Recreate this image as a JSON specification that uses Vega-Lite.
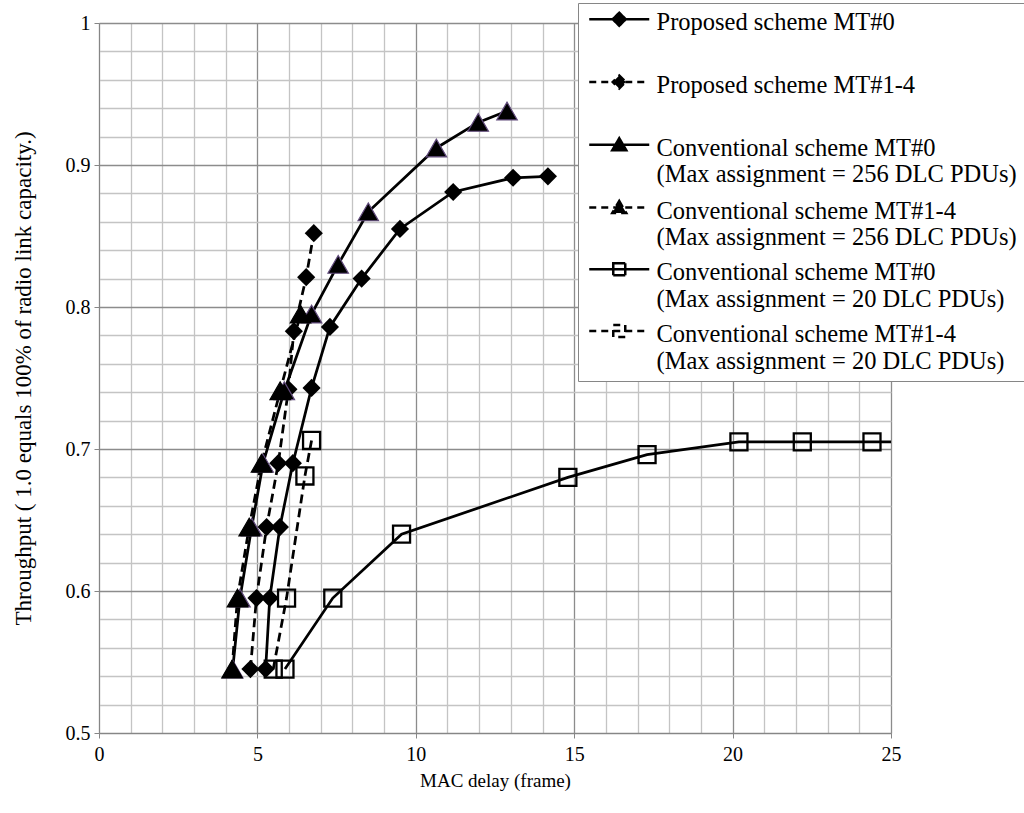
{
  "$schema": "https://vega.github.io/schema/vega-lite/v6.json",
  "width": 792,
  "height": 710,
  "autosize": {"type": "none"},
  "padding": {"left": 99, "top": 23, "right": 133, "bottom": 80},
  "background": "white",
  "config": {
    "view": {"stroke": null},
    "font": "Liberation Serif",
    "legend": {
      "orient": "none",
      "legendX": 479,
      "legendY": -20,
      "direction": "vertical",
      "padding": 8,
      "symbolOffset": 21,
      "strokeColor": "#868686",
      "fillColor": "white",
      "labelFont": "Liberation Serif",
      "labelFontSize": 24.5,
      "labelColor": "black",
      "labelLimit": 450,
      "symbolSize": 400,
      "symbolStrokeWidth": 2.5,
      "rowPadding": 7.75,
      "labelOffset": 25,
      "symbolOpacity": 1
    }
  },
  "data": {
    "values": [
      {"s": "Proposed scheme MT#0|", "x": 5.26, "y": 0.545},
      {"s": "Proposed scheme MT#0|", "x": 5.39, "y": 0.595},
      {"s": "Proposed scheme MT#0|", "x": 5.71, "y": 0.645},
      {"s": "Proposed scheme MT#0|", "x": 6.12, "y": 0.69},
      {"s": "Proposed scheme MT#0|", "x": 6.71, "y": 0.743},
      {"s": "Proposed scheme MT#0|", "x": 7.29, "y": 0.786},
      {"s": "Proposed scheme MT#0|", "x": 8.29, "y": 0.82},
      {"s": "Proposed scheme MT#0|", "x": 9.5, "y": 0.855},
      {"s": "Proposed scheme MT#0|", "x": 11.18, "y": 0.881},
      {"s": "Proposed scheme MT#0|", "x": 13.07, "y": 0.891},
      {"s": "Proposed scheme MT#0|", "x": 14.17, "y": 0.892},
      {"s": "Proposed scheme MT#1-4|", "x": 4.78, "y": 0.545},
      {"s": "Proposed scheme MT#1-4|", "x": 4.97, "y": 0.595},
      {"s": "Proposed scheme MT#1-4|", "x": 5.29, "y": 0.645},
      {"s": "Proposed scheme MT#1-4|", "x": 5.66, "y": 0.69},
      {"s": "Proposed scheme MT#1-4|", "x": 5.98, "y": 0.742},
      {"s": "Proposed scheme MT#1-4|", "x": 6.15, "y": 0.783},
      {"s": "Proposed scheme MT#1-4|", "x": 6.54, "y": 0.821},
      {"s": "Proposed scheme MT#1-4|", "x": 6.78, "y": 0.852},
      {"s": "Conventional scheme MT#0|(Max assignment = 256 DLC PDUs)", "x": 4.22, "y": 0.545},
      {"s": "Conventional scheme MT#0|(Max assignment = 256 DLC PDUs)", "x": 4.45, "y": 0.595},
      {"s": "Conventional scheme MT#0|(Max assignment = 256 DLC PDUs)", "x": 4.82, "y": 0.645},
      {"s": "Conventional scheme MT#0|(Max assignment = 256 DLC PDUs)", "x": 5.18, "y": 0.69},
      {"s": "Conventional scheme MT#0|(Max assignment = 256 DLC PDUs)", "x": 5.85, "y": 0.741},
      {"s": "Conventional scheme MT#0|(Max assignment = 256 DLC PDUs)", "x": 6.71, "y": 0.795},
      {"s": "Conventional scheme MT#0|(Max assignment = 256 DLC PDUs)", "x": 7.55, "y": 0.83},
      {"s": "Conventional scheme MT#0|(Max assignment = 256 DLC PDUs)", "x": 8.5, "y": 0.867},
      {"s": "Conventional scheme MT#0|(Max assignment = 256 DLC PDUs)", "x": 10.65, "y": 0.912},
      {"s": "Conventional scheme MT#0|(Max assignment = 256 DLC PDUs)", "x": 11.97, "y": 0.93},
      {"s": "Conventional scheme MT#0|(Max assignment = 256 DLC PDUs)", "x": 12.88, "y": 0.938},
      {"s": "Conventional scheme MT#1-4|(Max assignment = 256 DLC PDUs)", "x": 4.2, "y": 0.545},
      {"s": "Conventional scheme MT#1-4|(Max assignment = 256 DLC PDUs)", "x": 4.37, "y": 0.595},
      {"s": "Conventional scheme MT#1-4|(Max assignment = 256 DLC PDUs)", "x": 4.74, "y": 0.645},
      {"s": "Conventional scheme MT#1-4|(Max assignment = 256 DLC PDUs)", "x": 5.13, "y": 0.69},
      {"s": "Conventional scheme MT#1-4|(Max assignment = 256 DLC PDUs)", "x": 5.72, "y": 0.741},
      {"s": "Conventional scheme MT#1-4|(Max assignment = 256 DLC PDUs)", "x": 6.36, "y": 0.795},
      {"s": "Conventional scheme MT#0|(Max assignment = 20 DLC PDUs)", "x": 5.87, "y": 0.545},
      {"s": "Conventional scheme MT#0|(Max assignment = 20 DLC PDUs)", "x": 7.38, "y": 0.595},
      {"s": "Conventional scheme MT#0|(Max assignment = 20 DLC PDUs)", "x": 9.55, "y": 0.64},
      {"s": "Conventional scheme MT#0|(Max assignment = 20 DLC PDUs)", "x": 14.8, "y": 0.68},
      {"s": "Conventional scheme MT#0|(Max assignment = 20 DLC PDUs)", "x": 17.3, "y": 0.696},
      {"s": "Conventional scheme MT#0|(Max assignment = 20 DLC PDUs)", "x": 20.2, "y": 0.705},
      {"s": "Conventional scheme MT#0|(Max assignment = 20 DLC PDUs)", "x": 22.2, "y": 0.705},
      {"s": "Conventional scheme MT#0|(Max assignment = 20 DLC PDUs)", "x": 24.4, "y": 0.705},
      {"s": "Conventional scheme MT#0|(Max assignment = 20 DLC PDUs)", "x": 26.5, "y": 0.705},
      {"s": "Conventional scheme MT#1-4|(Max assignment = 20 DLC PDUs)", "x": 5.5, "y": 0.545},
      {"s": "Conventional scheme MT#1-4|(Max assignment = 20 DLC PDUs)", "x": 5.92, "y": 0.595},
      {"s": "Conventional scheme MT#1-4|(Max assignment = 20 DLC PDUs)", "x": 6.5, "y": 0.681},
      {"s": "Conventional scheme MT#1-4|(Max assignment = 20 DLC PDUs)", "x": 6.71, "y": 0.706}
    ]
  },
  "encoding": {
    "x": {
      "field": "x",
      "type": "quantitative",
      "scale": {"domain": [0, 25], "nice": false, "zero": false},
      "axis": {
        "values": [0,1,2,3,4,5,6,7,8,9,10,11,12,13,14,15,16,17,18,19,20,21,22,23,24,25],
        "grid": true,
        "gridColor": {"condition": {"test": "datum.value % 5 === 0", "value": "#8c8c8c"}, "value": "#c4c4c4"},
        "gridWidth": 1.3,
        "tickOpacity": {"condition": {"test": "datum.value % 5 === 0", "value": 1}, "value": 0},
        "tickColor": "#868686",
        "tickSize": 5,
        "labelExpr": "datum.value % 5 === 0 ? datum.label : ''",
        "labelFont": "Liberation Serif",
        "labelFontSize": 20,
        "labelColor": "black",
        "labelPadding": 6,
        "labelFlush": false,
        "labelOverlap": false,
        "domainColor": "#868686",
        "title": "MAC delay (frame)",
        "titleFont": "Liberation Serif",
        "titleFontSize": 19,
        "titleFontWeight": "normal",
        "titleColor": "black",
        "titlePadding": 7
      }
    },
    "y": {
      "field": "y",
      "type": "quantitative",
      "scale": {"domain": [0.5, 1], "nice": false, "zero": false},
      "axis": {
        "values": [0.5,0.52,0.54,0.56,0.58,0.6,0.62,0.64,0.66,0.68,0.7,0.72,0.74,0.76,0.78,0.8,0.82,0.84,0.86,0.88,0.9,0.92,0.94,0.96,0.98,1],
        "grid": true,
        "gridColor": {"condition": {"test": "abs(datum.value*10 - round(datum.value*10)) < 0.000001", "value": "#8c8c8c"}, "value": "#c4c4c4"},
        "gridWidth": 1.3,
        "tickOpacity": {"condition": {"test": "abs(datum.value*10 - round(datum.value*10)) < 0.000001", "value": 1}, "value": 0},
        "tickColor": "#868686",
        "tickSize": 5,
        "labelExpr": "abs(datum.value*10 - round(datum.value*10)) < 0.000001 ? format(datum.value, '.1~f') : ''",
        "labelFont": "Liberation Serif",
        "labelFontSize": 20,
        "labelColor": "black",
        "labelPadding": 4,
        "labelFlush": false,
        "labelOverlap": false,
        "domainColor": "#868686",
        "title": "Throughput ( 1.0 equals 100% of radio link capacity.)",
        "titleFont": "Liberation Serif",
        "titleFontSize": 23,
        "titleFontWeight": "normal",
        "titleColor": "black",
        "titlePadding": 30
      }
    }
  },
  "layer": [
    {
      "transform": [{"filter": "indexof(datum.s, 'MT#0') >= 0"}],
      "mark": {"type": "line", "color": "black", "strokeWidth": 2.75, "clip": true},
      "encoding": {"detail": {"field": "s", "type": "nominal"}}
    },
    {
      "transform": [{"filter": "indexof(datum.s, 'MT#1-4') >= 0"}],
      "mark": {"type": "line", "color": "black", "strokeWidth": 2.75, "strokeDash": [9, 5], "clip": true},
      "encoding": {"detail": {"field": "s", "type": "nominal"}}
    },
    {
      "transform": [{"filter": "indexof(datum.s, 'Proposed') === 0"}],
      "mark": {"type": "point", "shape": "diamond", "filled": true, "color": "black", "size": 330, "opacity": 1, "clip": true}
    },
    {
      "transform": [{"filter": "indexof(datum.s, '256') >= 0"}],
      "mark": {"type": "point", "shape": "triangle-up", "filled": true, "fill": "black", "size": 420, "strokeWidth": 1.2, "opacity": 1, "clip": true},
      "encoding": {
        "stroke": {"condition": {"test": "indexof(datum.s, 'MT#0') >= 0", "value": "#604A7B"}, "value": "black"}
      }
    },
    {
      "transform": [{"filter": "indexof(datum.s, '= 20 ') >= 0"}],
      "mark": {"type": "point", "shape": "square", "filled": false, "color": "black", "size": 290, "strokeWidth": 2.3, "opacity": 1, "clip": true}
    },
    {
      "transform": [{"filter": "false"}],
      "mark": {"type": "point", "filled": true},
      "encoding": {
        "shape": {
          "field": "s",
          "type": "nominal",
          "scale": {
            "domain": [
              "Proposed scheme MT#0|",
              "Proposed scheme MT#1-4|",
              "Conventional scheme MT#0|(Max assignment = 256 DLC PDUs)",
              "Conventional scheme MT#1-4|(Max assignment = 256 DLC PDUs)",
              "Conventional scheme MT#0|(Max assignment = 20 DLC PDUs)",
              "Conventional scheme MT#1-4|(Max assignment = 20 DLC PDUs)"
            ],
            "range": [
              "M-3,-0.4H3M0,-1.05L0.65,-0.4L0,0.25L-0.65,-0.4Z",
              "M-3,-0.4H3M0,-1.05L0.65,-0.4L0,0.25L-0.65,-0.4Z",
              "M-3,-0.4H3M0,-1.05L0.7,0.15L-0.7,0.15Z",
              "M-3,-0.4H3M0,-1.05L0.7,0.15L-0.7,0.15Z",
              "M-3,-0.4H3M-0.6,-1H0.6V0.2H-0.6Z",
              "M-3,-0.4H3M-0.6,-1H0.6V0.2H-0.6Z"
            ]
          },
          "legend": {"title": null, "labelExpr": "split(datum.label, '|')"}
        },
        "fill": {
          "field": "s",
          "type": "nominal",
          "scale": {
            "domain": [
              "Proposed scheme MT#0|",
              "Proposed scheme MT#1-4|",
              "Conventional scheme MT#0|(Max assignment = 256 DLC PDUs)",
              "Conventional scheme MT#1-4|(Max assignment = 256 DLC PDUs)",
              "Conventional scheme MT#0|(Max assignment = 20 DLC PDUs)",
              "Conventional scheme MT#1-4|(Max assignment = 20 DLC PDUs)"
            ],
            "range": ["black", "black", "black", "black", "transparent", "transparent"]
          },
          "legend": {"title": null, "labelExpr": "split(datum.label, '|')"}
        },
        "stroke": {
          "field": "s",
          "type": "nominal",
          "scale": {
            "domain": [
              "Proposed scheme MT#0|",
              "Proposed scheme MT#1-4|",
              "Conventional scheme MT#0|(Max assignment = 256 DLC PDUs)",
              "Conventional scheme MT#1-4|(Max assignment = 256 DLC PDUs)",
              "Conventional scheme MT#0|(Max assignment = 20 DLC PDUs)",
              "Conventional scheme MT#1-4|(Max assignment = 20 DLC PDUs)"
            ],
            "range": ["black", "black", "black", "black", "black", "black"]
          },
          "legend": {"title": null, "labelExpr": "split(datum.label, '|')"}
        },
        "strokeDash": {
          "field": "s",
          "type": "nominal",
          "scale": {
            "domain": [
              "Proposed scheme MT#0|",
              "Proposed scheme MT#1-4|",
              "Conventional scheme MT#0|(Max assignment = 256 DLC PDUs)",
              "Conventional scheme MT#1-4|(Max assignment = 256 DLC PDUs)",
              "Conventional scheme MT#0|(Max assignment = 20 DLC PDUs)",
              "Conventional scheme MT#1-4|(Max assignment = 20 DLC PDUs)"
            ],
            "range": [[1, 0], [7, 5], [1, 0], [7, 5], [1, 0], [7, 5]]
          },
          "legend": {"title": null, "labelExpr": "split(datum.label, '|')"}
        }
      }
    }
  ]
}
